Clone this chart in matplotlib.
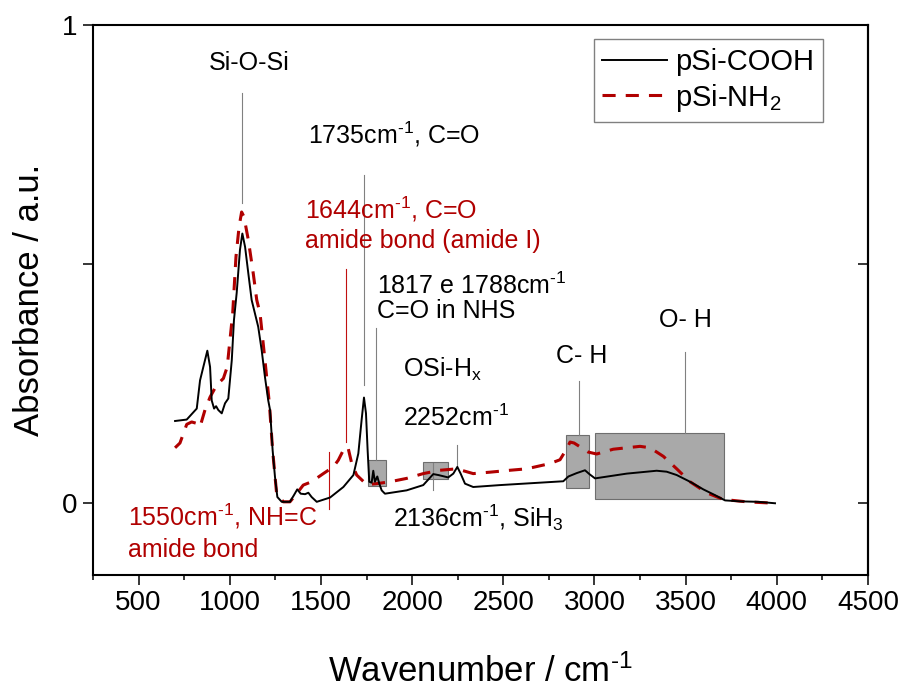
import numpy as np
import matplotlib
matplotlib.use('Agg')
import matplotlib.pyplot as plt
from matplotlib.patches import Rectangle

plt.rcParams['font.family'] = ['Liberation Sans', 'DejaVu Sans']
plt.rcParams['mathtext.fontset'] = 'custom'
plt.rcParams['mathtext.rm'] = 'Liberation Sans'
plt.rcParams['mathtext.it'] = 'Liberation Sans:italic'
plt.rcParams['mathtext.default'] = 'regular'

# pSi-COOH spectrum
cooh_x = [700, 764, 819, 837, 855, 877, 892, 901, 914, 925, 937, 956, 974, 992, 1011, 1023,
          1038, 1056, 1069, 1084, 1102, 1120, 1156, 1175, 1193, 1211, 1221, 1235, 1248, 1261,
          1285, 1330, 1352, 1370, 1389, 1413, 1431, 1449, 1477, 1550, 1623, 1678, 1705, 1723,
          1736, 1747, 1756, 1765, 1778, 1787, 1796, 1809, 1820, 1833, 1851, 1970, 2061, 2116,
          2144, 2198, 2226, 2248, 2266, 2290, 2335, 2482, 2829, 2857, 2902, 2948, 2972, 3003,
          3177, 3341, 3396, 3451, 3524, 3597, 3661, 3716, 3798, 3898, 3990]
cooh_y = [0.172, 0.175, 0.198, 0.257, 0.285, 0.319, 0.285, 0.215, 0.198, 0.203, 0.195, 0.188,
          0.209, 0.219, 0.299, 0.383, 0.440, 0.530, 0.564, 0.536, 0.480, 0.425, 0.369, 0.320,
          0.264, 0.215, 0.195, 0.111, 0.055, 0.013, 0.003, 0.003, 0.017, 0.029, 0.020, 0.019,
          0.022, 0.013, 0.003, 0.012, 0.034, 0.059, 0.104, 0.174, 0.221, 0.188, 0.111, 0.045,
          0.043, 0.068, 0.045, 0.056, 0.041, 0.027, 0.020, 0.027, 0.038, 0.061, 0.059, 0.054,
          0.062, 0.076, 0.062, 0.041, 0.034, 0.038, 0.046, 0.056, 0.063, 0.069, 0.061, 0.052,
          0.062, 0.068, 0.066, 0.059, 0.045, 0.029, 0.017, 0.006, 0.004, 0.003, 0.0]

# pSi-NH2 spectrum
nh2_x = [700, 727, 764, 791, 819, 837, 864, 892, 928, 965, 986, 1001, 1016, 1034, 1051, 1065,
         1078, 1102, 1129, 1148, 1166, 1193, 1217, 1235, 1257, 1294, 1330, 1367, 1403, 1449,
         1513, 1568, 1595, 1632, 1650, 1669, 1696, 1751, 1806, 1879, 1970, 2061, 2153, 2244,
         2335, 2427, 2537, 2628, 2756, 2811, 2848, 2866, 2888, 2921, 2966, 3012, 3103, 3250,
         3305, 3378, 3451, 3524, 3615, 3706, 3835, 3990]
nh2_y = [0.116, 0.126, 0.165, 0.170, 0.167, 0.160, 0.195, 0.222, 0.247, 0.261, 0.285, 0.341,
         0.397, 0.515, 0.578, 0.609, 0.599, 0.550, 0.480, 0.425, 0.397, 0.299, 0.209, 0.111,
         0.020, 0.003, 0.003, 0.020, 0.038, 0.045, 0.062, 0.076, 0.090, 0.118, 0.114, 0.083,
         0.059, 0.039, 0.041, 0.045, 0.052, 0.062, 0.069, 0.072, 0.062, 0.065, 0.069, 0.072,
         0.083, 0.091, 0.114, 0.128, 0.126, 0.118, 0.107, 0.103, 0.113, 0.119, 0.116, 0.098,
         0.072, 0.045, 0.022, 0.008, 0.003, 0.0]

# shaded band regions: (x0, x1, y0, y1)
boxes = [(1758, 1857, 0.036, 0.090),
         (2060, 2197, 0.050, 0.086),
         (2844, 2970, 0.031, 0.142),
         (3003, 3710, 0.008, 0.146)]

# marker lines: (x, y0, y1, colour)
marks = [(1067, 0.628, 0.858, '#808080'),
         (1736, 0.247, 0.686, '#808080'),
         (1637, 0.128, 0.490, '#c01010'),
         (1802, 0.090, 0.366, '#808080'),
         (1544, -0.013, 0.107, '#c01010'),
         (2115, 0.027, 0.084, '#808080'),
         (2246, 0.073, 0.121, '#808080'),
         (2915, 0.142, 0.255, '#808080'),
         (3497, 0.146, 0.316, '#808080')]

red = '#b00000'
inv = r'$^{\text{-}1}$'  # raised "-1" with a plain hyphen

fig = plt.figure(figsize=(9.03, 6.93), dpi=100)
ax = fig.add_axes([93/903, 1-575/693, 775/903, 550/693])

for x0, x1, y0, y1 in boxes:
    ax.add_patch(Rectangle((x0, y0), x1-x0, y1-y0, facecolor='#a9a9a9',
                           edgecolor='#6e6e6e', lw=0.8, zorder=1))
for x, y0, y1, c in marks:
    ax.plot([x, x], [y0, y1], color=c, lw=0.8, zorder=1)

ax.plot(cooh_x, cooh_y, color='black', lw=1.4, label='pSi-COOH', zorder=3)
ax.plot(nh2_x, nh2_y, color=red, lw=2.2, dashes=(4.3, 3.3), label='pSi-NH$_2$', zorder=2)

fs = 18
ax.text(1105, 0.92, 'Si-O-Si', fontsize=fs, ha='center', va='center')
ax.text(1429, 0.753, '1735cm' + inv + ', C=O', fontsize=fs, ha='left', va='baseline')
ax.text(1413, 0.596, '1644cm' + inv + ', C=O', fontsize=fs, color=red, ha='left', va='baseline')
ax.text(1413, 0.533, 'amide bond (amide I)', fontsize=fs, color=red, ha='left', va='baseline')
ax.text(1808, 0.437, '1817 e 1788cm' + inv, fontsize=fs, ha='left', va='baseline')
ax.text(1808, 0.387, 'C=O in NHS', fontsize=fs, ha='left', va='baseline')
ax.text(1950, 0.264, 'OSi-H$_x$', fontsize=fs, ha='left', va='baseline')
ax.text(1950, 0.161, '2252cm' + inv, fontsize=fs, ha='left', va='baseline')
ax.text(1895, -0.050, '2136cm' + inv + ', SiH$_3$', fontsize=fs, ha='left', va='baseline')
ax.text(2932, 0.293, 'C- H', fontsize=fs, ha='center', va='baseline')
ax.text(3497, 0.368, 'O- H', fontsize=fs, ha='center', va='baseline')
ax.text(442, -0.046, '1550cm' + inv + ', NH=C', fontsize=fs, color=red, ha='left', va='baseline')
ax.text(442, -0.113, 'amide bond', fontsize=fs, color=red, ha='left', va='baseline')

ax.set_xlim(250, 4500)
ax.set_ylim(-0.15, 1.0)
ax.set_xticks(np.arange(500, 4501, 500))
ax.set_xticks(np.arange(250, 4501, 500), minor=True)
ax.set_yticks([0, 0.5, 1])
ax.set_yticklabels(['0', '', '1'])
ax.tick_params(which='major', direction='out', length=7, width=1.1, labelsize=20, pad=4)
ax.tick_params(which='minor', direction='out', length=3.6, width=1.1)
for s in ax.spines.values():
    s.set_linewidth(1.5)

sec = ax.secondary_yaxis('right')
sec.set_yticks([0, 0.5, 1])
sec.tick_params(direction='in', length=7, width=1.1, labelright=False)
sec.spines['right'].set_linewidth(1.5)

ax.set_xlabel('Wavenumber / cm' + inv, fontsize=25)
ax.set_ylabel('Absorbance / a.u.', fontsize=25)
ax.xaxis.set_label_coords(0.5, -0.145)
ax.yaxis.set_label_coords(-0.061, 0.5)

leg = ax.legend(loc='upper right', bbox_to_anchor=(0.942, 0.9745), fontsize=21,
                handlelength=2.2, labelspacing=0.2, borderpad=0.3, handletextpad=0.3,
                fancybox=False, framealpha=1, borderaxespad=0)
leg.get_frame().set_edgecolor('#808080')
leg.get_frame().set_linewidth(1.0)

fig.savefig('out.png', dpi=100)
